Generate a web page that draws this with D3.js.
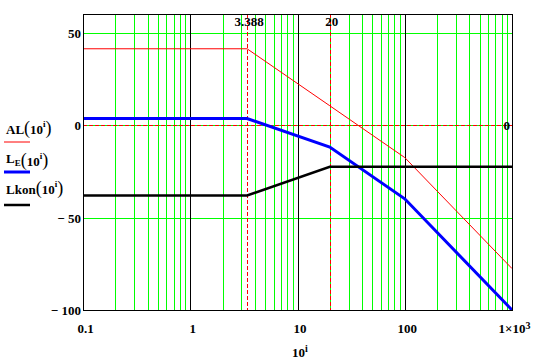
<!DOCTYPE html>
<html>
<head>
<meta charset="utf-8">
<script src="https://cdn.jsdelivr.net/npm/d3@7"></script>
<style>
  body { margin: 0; background: #fff; }
  text { font-family: "Liberation Serif", "Times New Roman", serif; font-weight: bold; fill: #000; }
</style>
</head>
<body>
<div id="chart"></div>
<script>
// break frequencies and levels (dB)
var freq = [0.1, 3.388, 20, 100, 1000];
var alValues = [41.2, 41.2, 10.4, -17.6, -77.6];
var leValues = [3.5, 3.5, -11.9, -39.9, -100];
var konValues = [-38.1, -38.1, -22.6, -22.6, -22.6];
var xTicks = [0.1, 1, 10, 100, 1000];
var yTicks = [-100, -50, 0, 50];
var xMarkers = [3.388, 20];
var yMarkers = [0];

var width = 541, height = 362;
var margin = {top: 14, right: 29, bottom: 52, left: 83};

var svg = d3.select("#chart").append("svg")
    .attr("width", width)
    .attr("height", height);

var x = d3.scaleLog()
    .domain([0.1, 1000])
    .range([margin.left, width - margin.right]);
var y = d3.scaleLinear()
    .domain([-100, 60])
    .range([height - margin.bottom, margin.top]);

// minor log grid (green) and decade lines (black)
var minor = [];
[0.1, 1, 10, 100].forEach(function (d) {
    for (var k = 2; k <= 9; k++) minor.push(d * k);
});
var grid = svg.append("g").attr("shape-rendering", "crispEdges");
grid.selectAll(".vminor")
    .data(minor)
    .enter().append("line")
    .attr("x1", d => Math.round(x(d)) + 0.5)
    .attr("x2", d => Math.round(x(d)) + 0.5)
    .attr("y1", y(60))
    .attr("y2", y(-100))
    .attr("stroke", "#00ff00");
grid.selectAll(".hminor")
    .data([-50, 0, 50])
    .enter().append("line")
    .attr("x1", x(0.1))
    .attr("x2", x(1000))
    .attr("y1", d => Math.round(y(d)) + 0.5)
    .attr("y2", d => Math.round(y(d)) + 0.5)
    .attr("stroke", "#00ff00");
grid.selectAll(".vmajor")
    .data([1, 10, 100])
    .enter().append("line")
    .attr("x1", d => Math.round(x(d)) + 0.5)
    .attr("x2", d => Math.round(x(d)) + 0.5)
    .attr("y1", y(60))
    .attr("y2", y(-100))
    .attr("stroke", "#000");

// markers
var markers = svg.append("g").attr("shape-rendering", "crispEdges");
markers.selectAll(".mx")
    .data(xMarkers)
    .enter().append("line")
    .attr("x1", d => Math.round(x(d)) + 0.5)
    .attr("x2", d => Math.round(x(d)) + 0.5)
    .attr("y1", y(60))
    .attr("y2", y(-100))
    .attr("stroke", "#ff0000")
    .attr("stroke-dasharray", "4,2");
markers.selectAll(".my")
    .data(yMarkers)
    .enter().append("line")
    .attr("x1", x(0.1))
    .attr("x2", x(1000))
    .attr("y1", d => Math.round(y(d)) + 0.5)
    .attr("y2", d => Math.round(y(d)) + 0.5)
    .attr("stroke", "#ff0000")
    .attr("stroke-dasharray", "4,2");
svg.selectAll(".mxlabel")
    .data(xMarkers)
    .enter().append("text")
    .attr("x", d => x(d) + 2)
    .attr("y", 26)
    .attr("text-anchor", "middle")
    .style("font-size", "13px")
    .text(d => d);
svg.selectAll(".mylabel")
    .data(yMarkers)
    .enter().append("text")
    .attr("x", x(1000) - 2)
    .attr("y", d => y(d) + 4.5)
    .attr("text-anchor", "end")
    .style("font-size", "13px")
    .text(d => d);

// traces
var traces = [
    {values: alValues, color: "#ff0000", w: 1},
    {values: leValues, color: "#0000ff", w: 3},
    {values: konValues, color: "#000", w: 2.5}
];
var line = d3.line()
    .x(d => x(d[0]))
    .y(d => y(d[1]));
traces.forEach(function (t) {
    svg.append("path")
        .datum(freq.map((f, i) => [f, t.values[i]]))
        .attr("fill", "none")
        .attr("stroke", t.color)
        .attr("stroke-width", t.w)
        .attr("d", line);
});

// frame
svg.append("rect")
    .attr("x", x(0.1) + 0.5)
    .attr("y", y(60) + 0.5)
    .attr("width", x(1000) - x(0.1))
    .attr("height", y(-100) - y(60))
    .attr("fill", "none")
    .attr("stroke", "#000")
    .attr("shape-rendering", "crispEdges");

// axes
var yAxis = d3.axisLeft(y)
    .tickValues(yTicks)
    .tickSize(0)
    .tickPadding(2)
    .tickFormat(d => d < 0 ? "\u2212 " + Math.abs(d) : d);
var gy = svg.append("g")
    .attr("transform", "translate(" + margin.left + ",0)")
    .call(yAxis);
gy.select(".domain").remove();
gy.selectAll("text")
    .style("font-size", "13px")
    .style("font-family", null)
    .attr("dy", "0.35em");

var xAxis = d3.axisBottom(x)
    .tickValues(xTicks)
    .tickSize(0)
    .tickPadding(14)
    .tickFormat(d => d === 1000 ? "" : (d < 1 ? "0.1" : d));
var gx = svg.append("g")
    .attr("transform", "translate(0," + (height - margin.bottom) + ")")
    .call(xAxis);
gx.select(".domain").remove();
gx.selectAll("text")
    .style("font-size", "13px")
    .style("font-family", null)
    .attr("dx", 2);
gx.selectAll(".tick").filter(d => d === 1000).select("text")
    .call(function (t) {
        t.append("tspan").text("1\u00d710");
        t.append("tspan").attr("dy", "-0.45em").style("font-size", "10px").text("3");
    });

// x title
var xt = svg.append("text")
    .attr("x", 300)
    .attr("y", 357)
    .attr("text-anchor", "middle")
    .style("font-size", "13px");
xt.append("tspan").text("10");
xt.append("tspan").attr("dy", "-0.55em").style("font-size", "10px").text("i");

// legend
var legend = [
    {name: "AL", sub: "", color: "#ff0000", w: 1, ty: 134, ly: 142},
    {name: "L", sub: "E", color: "#0000ff", w: 3, ty: 163, ly: 172},
    {name: "Lkon", sub: "", color: "#000", w: 2.5, ty: 194, ly: 205}
];
legend.forEach(function (d) {
    var t = svg.append("text")
        .attr("x", 6)
        .attr("y", d.ty)
        .style("font-size", "13px");
    t.append("tspan").text(d.name);
    if (d.sub) {
        t.append("tspan").attr("dy", 3).style("font-size", "9px").text(d.sub);
        t.append("tspan").attr("dy", -3).text("");
    }
    t.append("tspan").style("font-size", "18px").style("font-weight", "normal").text("(");
    t.append("tspan").text("10");
    t.append("tspan").attr("dy", -7).style("font-size", "9px").text("i");
    t.append("tspan").attr("dy", 7).style("font-size", "18px").style("font-weight", "normal").text(")");
    svg.append("line")
        .attr("x1", 4)
        .attr("x2", 30)
        .attr("y1", d.ly)
        .attr("y2", d.ly)
        .attr("stroke", d.color)
        .attr("stroke-width", d.w);
});
</script>
</body>
</html>
